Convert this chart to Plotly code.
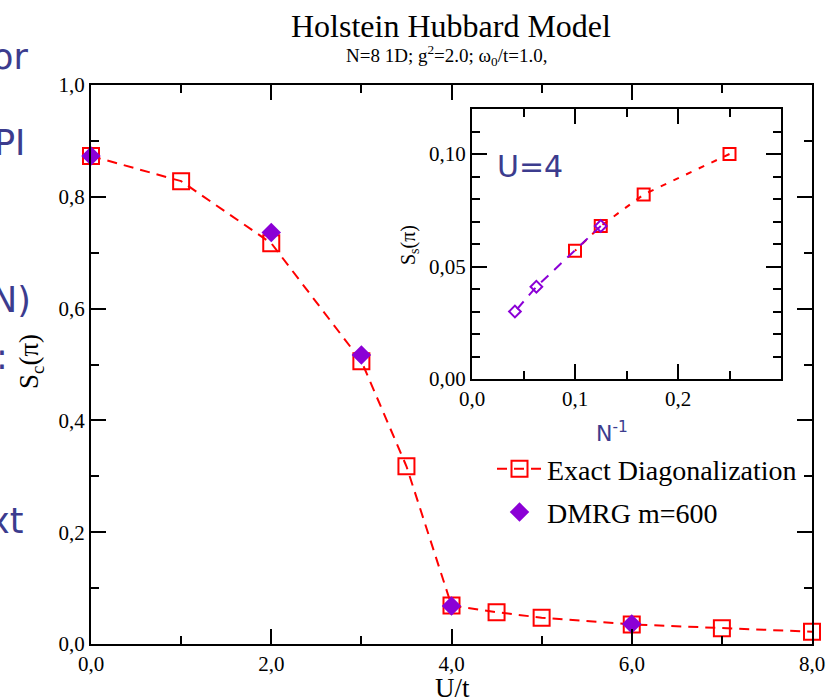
import plotly.graph_objects as go

# Main panel: charge structure factor vs U/t
u_ed = [0, 1, 2, 3, 3.5, 4, 4.5, 5, 6, 7, 8]
sc_ed = [0.873, 0.828, 0.717, 0.506, 0.318, 0.069, 0.057, 0.047, 0.035, 0.028, 0.022]
u_dmrg = [0, 2, 3, 4, 6]
sc_dmrg = [0.873, 0.736, 0.517, 0.068, 0.036]

# Inset: spin structure factor vs 1/N at U=4
invn_ed = [0.25, 1 / 6, 0.125, 0.1]
ss_ed = [0.100, 0.082, 0.068, 0.057]
invn_dmrg = [0.125, 1 / 16, 1 / 24]
ss_dmrg = [0.068, 0.041, 0.030]

RED = "#ff0000"
PURPLE = "#8b00d6"
BLUE = "#3c3c8e"
SERIF = "Liberation Serif"
SANS = "DejaVu Sans"

fig = go.Figure()

fig.add_trace(go.Scatter(
    x=u_ed, y=sc_ed, mode="lines+markers", name="Exact Diagonalization",
    line=dict(color=RED, width=2, dash="10px,7px"),
    marker=dict(symbol="square-open", size=16, color=RED, line=dict(width=2, color=RED)),
    cliponaxis=False, legendgroup="ed",
))
fig.add_trace(go.Scatter(
    x=u_dmrg, y=sc_dmrg, mode="markers", name="DMRG m=600",
    marker=dict(symbol="diamond", size=15, color=PURPLE),
    cliponaxis=False, legendgroup="dmrg",
))

fig.add_trace(go.Scatter(
    x=invn_ed, y=ss_ed, mode="lines+markers", showlegend=False,
    line=dict(color=RED, width=2, dash="6px,8px"),
    marker=dict(symbol="square-open", size=12, color=RED, line=dict(width=2, color=RED)),
    xaxis="x2", yaxis="y2", cliponaxis=False,
))
fig.add_trace(go.Scatter(
    x=invn_dmrg, y=ss_dmrg, mode="lines+markers", showlegend=False,
    line=dict(color=PURPLE, width=2, dash="10px,8px"),
    marker=dict(symbol="diamond-open", size=9, color=PURPLE, line=dict(width=2, color=PURPLE)),
    xaxis="x2", yaxis="y2", cliponaxis=False,
))


def axis_style(size):
    return dict(showline=True, linecolor="black", linewidth=2, mirror="ticks",
                ticks="inside", tickcolor="black", tickwidth=1.5, automargin=False,
                showgrid=False, zeroline=False,
                tickfont=dict(family=SERIF, size=size, color="black"))


def minor(step):
    return dict(dtick=step, ticks="inside", ticklen=8, tickcolor="black", tickwidth=1.5)


fig.update_layout(
    width=839, height=700,
    margin=dict(l=0, r=0, t=0, b=0, autoexpand=False),
    paper_bgcolor="white", plot_bgcolor="white",
    separators=",.",
    xaxis=dict(domain=[91 / 839, 812 / 839], range=[0, 8], tickvals=[0, 2, 4, 6, 8],
               tickformat=".1f", ticklen=15, minor=minor(1), **axis_style(21)),
    yaxis=dict(domain=[1 - 644 / 700, 1 - 85 / 700], range=[0, 1], dtick=0.2,
               tickformat=".1f", ticklen=15, minor=minor(0.1), **axis_style(21)),
    xaxis2=dict(domain=[472 / 839, 781 / 839], range=[0, 0.3], tickvals=[0, 0.1, 0.2],
                tickformat=".1f", ticklen=15, anchor="y2", minor=minor(0.05),
                **axis_style(21)),
    yaxis2=dict(domain=[1 - 379 / 700, 1 - 109 / 700], range=[0, 0.12], dtick=0.05,
                tickformat=".2f", ticklen=15, anchor="x2", minor=minor(0.01),
                **axis_style(21)),
    legend=dict(x=492 / 839, y=1 - 444 / 700, xanchor="left", yanchor="top",
                bgcolor="rgba(0,0,0,0)", font=dict(family=SERIF, size=28, color="black"),
                tracegroupgap=4, itemwidth=45),
    showlegend=True,
)

annotations = [
    dict(text="Holstein Hubbard Model", x=451 / 839, y=1 - 26 / 700,
         font=dict(family=SERIF, size=32, color="black")),
    dict(text="N=8 1D; g<sup>2</sup>=2.0; ω<sub>0</sub>/t=1.0,", x=447 / 839, y=1 - 56 / 700,
         font=dict(family=SERIF, size=19, color="black")),
    dict(text="U/t", x=452 / 839, y=1 - 688 / 700,
         font=dict(family=SERIF, size=27, color="black")),
    dict(text="S<sub>c</sub>(π)", x=31 / 839, y=1 - 362 / 700, textangle=-90,
         font=dict(family=SERIF, size=27, color="black")),
    dict(text="S<sub>s</sub>(π)", x=410 / 839, y=1 - 245 / 700, textangle=-90,
         font=dict(family=SERIF, size=20, color="black")),
    dict(text="N<sup>-1</sup>", x=612 / 839, y=1 - 432 / 700,
         font=dict(family=SANS, size=22, color=BLUE)),
    dict(text="U=4", x=530 / 839, y=1 - 167 / 700,
         font=dict(family=SANS, size=30, color=BLUE)),
    # Fragments of the surrounding slide text at the left edge
    dict(text="or", x=30 / 839, y=1 - 57 / 700, xanchor="right",
         font=dict(family=SANS, size=35, color=BLUE)),
    dict(text="PI", x=27 / 839, y=1 - 143 / 700, xanchor="right",
         font=dict(family=SANS, size=35, color=BLUE)),
    dict(text="N)", x=33 / 839, y=1 - 300 / 700, xanchor="right",
         font=dict(family=SANS, size=35, color=BLUE)),
    dict(text=":", x=-6 / 839, y=1 - 357 / 700, xanchor="left",
         font=dict(family=SANS, size=35, color=BLUE)),
    dict(text="xt", x=25 / 839, y=1 - 521 / 700, xanchor="right",
         font=dict(family=SANS, size=35, color=BLUE)),
]
for a in annotations:
    a.setdefault("xanchor", "center")
    fig.add_annotation(xref="paper", yref="paper", showarrow=False, yanchor="middle", **a)

fig.write_html("out.html")
